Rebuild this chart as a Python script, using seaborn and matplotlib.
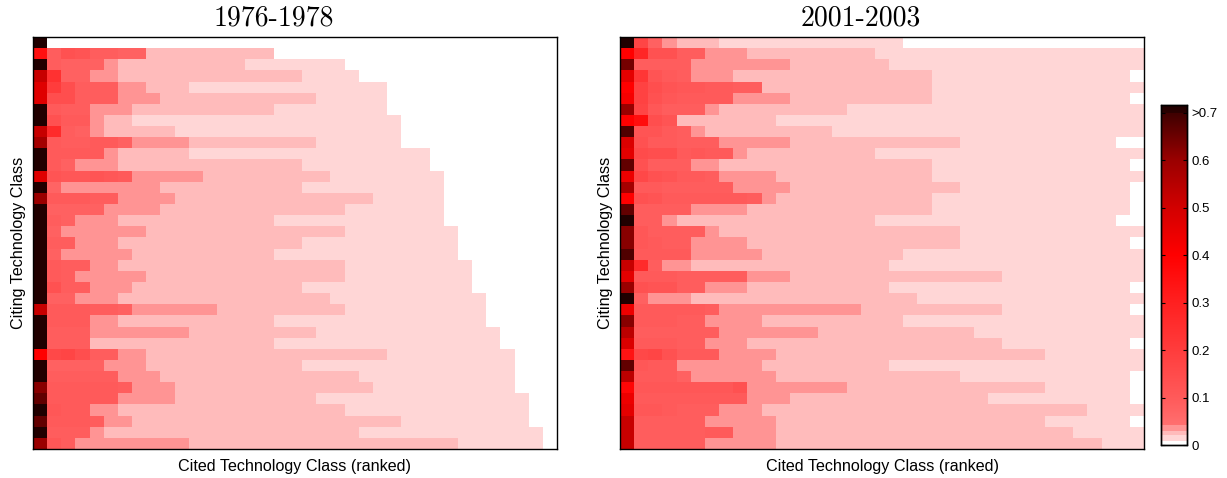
import numpy as np
import seaborn as sns
import matplotlib.pyplot as plt
from matplotlib.colors import LinearSegmentedColormap

VMAX = 0.7158
N_RANKS = 37
PALE, LIGHT, SOFT = 0.015, 0.025, 0.04

titles = ['1976-1978', '2001-2003']
cbar_ticks = [0, 0.1, 0.2, 0.3, 0.4, 0.5, 0.6, 0.7]
cbar_labels = ['0', '0.1', '0.2', '0.3', '0.4', '0.5', '0.6', '>0.7']

# 1976-1978: self citing share, red cells after it, and where each pale band ends
first_76 = [.72, .35, .72, .52, .47, .47, .72, .72, .52, .58, .72, .72, .47, .72, .6, .72, .72, .72, .72,
            .72, .72, .72, .72, .72, .52, .72, .72, .72, .4, .72, .72, .62, .66, .72, .66, .72, .6]
hot_76 = [
    [],
    [.09, .13, .12, .09, .09, .08, .08],
    [.09, .08, .08, .08],
    [.24, .08, .08],
    [.2, .14, .09, .09, .09],
    [.14, .14, .09, .09, .09],
    [.1, .09, .09],
    [.13, .1, .1],
    [.26, .09, .08],
    [.1, .09, .09, .1, .1, .08],
    [.1, .1, .1, .1],
    [.1, .08],
    [.12, .11, .11, .12, .11, .1],
    [.07],
    [.1, .1, .1, .09, .09],
    [.08, .08, .08, .08],
    [.09, .08],
    [.08],
    [.09, .09],
    [.08],
    [.1, .09, .09],
    [.1, .09],
    [.13, .09, .09],
    [.08, .08],
    [.1, .1, .1, .09, .09, .08],
    [.1, .1, .1],
    [.09, .09, .09],
    [.09, .09, .09],
    [.16, .17, .14, .09, .09],
    [.08, .08, .08, .08],
    [.09, .09, .09, .09, .09],
    [.1, .1, .1, .1, .1, .09],
    [.1, .1, .1, .1, .1],
    [.11, .1, .1],
    [.1, .1, .1, .09],
    [.09, .09, .09],
    [.11, .09],
]
soft_end_76 = [1, 8, 6, 6, 8, 9, 7, 5, 5, 11, 6, 6, 12, 9, 10, 9, 6, 8, 6,
               7, 6, 8, 7, 6, 13, 6, 11, 4, 8, 8, 9, 10, 10, 6, 7, 5, 11]
light_end_76 = [1, 17, 15, 19, 11, 20, 17, 7, 10, 20, 11, 19, 21, 19, 24, 22, 17, 22, 19,
                17, 22, 22, 19, 21, 22, 17, 20, 17, 25, 19, 23, 24, 20, 22, 26, 23, 30]
pale_end_76 = [1, 17, 22, 23, 25, 25, 25, 26, 26, 26, 28, 28, 29, 29, 29, 29, 29, 30, 30,
               30, 31, 31, 31, 32, 32, 32, 33, 33, 34, 34, 34, 34, 35, 35, 35, 36, 36]

# 2001-2003
first_01 = [.72, .4, .64, .46, .4, .42, .6, .4, .68, .48, .46, .66, .44, .58, .4, .66, .72, .62, .62,
            .68, .52, .46, .6, .72, .44, .62, .54, .48, .34, .66, .54, .38, .44, .46, .52, .52, .52]
hot_01 = [
    [.17, .08],
    [.28, .13, .13, .09, .09],
    [.09, .09, .09, .09],
    [.22, .12, .1, .09],
    [.18, .14, .12, .11, .11, .1, .1, .09, .09],
    [.18, .13, .11, .1, .1, .1, .1],
    [.17, .11, .09, .09, .09],
    [.36, .14, .12],
    [.12, .12, .1, .09],
    [.13, .1, .1, .09, .09, .09],
    [.15, .14, .14, .1, .11, .1, .1],
    [.13, .09, .09, .09],
    [.16, .13, .12, .1, .1, .09],
    [.1, .1, .09, .09, .09, .09, .09],
    [.13, .12, .1, .1, .1, .1, .1, .1, .09],
    [.09, .09, .09, .09],
    [.09, .09],
    [.11, .09, .09, .09, .09],
    [.11, .1, .09, .09],
    [.1, .1, .1, .1],
    [.26, .09],
    [.1, .1, .1, .09, .09, .09, .09, .09],
    [.13, .12, .12, .09, .09],
    [.08],
    [.1, .1, .1, .1, .1, .09],
    [.1, .1, .1, .09, .09],
    [.09, .09, .09, .09, .09, .09],
    [.1, .1, .1, .09, .09],
    [.16, .17, .13, .1, .1, .1],
    [.11, .1, .1],
    [.1, .1, .1, .08],
    [.11, .11, .11, .11, .11, .11, .11, .13],
    [.1, .1, .1, .1, .1, .1, .1, .1],
    [.11, .11, .1, .09, .09, .09],
    [.09, .09, .09, .09, .09],
    [.09, .09, .09, .09, .09, .1, .1],
    [.09, .09, .09, .09, .09],
]
soft_end_01 = [4, 9, 12, 8, 10, 12, 7, 4, 6, 12, 9, 7, 11, 12, 11, 9, 4, 7, 9,
               10, 5, 12, 9, 5, 17, 10, 14, 9, 11, 10, 11, 16, 12, 10, 11, 11, 11]
light_end_01 = [7, 18, 19, 22, 22, 22, 16, 11, 15, 24, 18, 22, 22, 24, 22, 22, 18, 24, 24,
                20, 19, 27, 19, 21, 27, 20, 25, 27, 30, 19, 24, 30, 26, 33, 30, 32, 34]
pale_end_01 = [20, 37, 37, 36, 37, 36, 37, 37, 37, 35, 37, 36, 37, 36, 36, 36, 35, 37, 36,
               37, 37, 37, 36, 37, 36, 37, 37, 36, 37, 37, 36, 36, 36, 37, 36, 37, 37]


def build_matrix(first, hot, soft_end, light_end, pale_end):
    mat = np.zeros((len(first), N_RANKS))
    for i in range(len(first)):
        mat[i, :pale_end[i]] = PALE
        mat[i, :light_end[i]] = LIGHT
        mat[i, :soft_end[i]] = SOFT
        mat[i, 0] = first[i]
        mat[i, 1:1 + len(hot[i])] = hot[i]
    return mat


# stepped at the bottom, then a smooth white-red-black ramp
stops = [(0, '#ffffff'), (.0076, '#ffffff'), (.0076, '#ffd6d6'), (.0196, '#ffd6d6'),
         (.0196, '#ffbbbb'), (.03, '#ffbbbb'), (.03, '#ff9494'), (.0406, '#ff9494'),
         (.0406, '#ff7070'), (.07, '#ff6464'), (.1, '#ff5a5a'), (.2, '#ff3c3c'),
         (.3, '#ff2020'), (.4, '#ff0000'), (.5, '#d20000'), (.6, '#9a0000'),
         (.7, '#3e0000'), (.7, '#2a0000'), (VMAX, '#200000')]
cmap = LinearSegmentedColormap.from_list('citing', [(v / VMAX, c) for v, c in stops], N=1024)

W, H = 1227, 478
fig = plt.figure(figsize=(W / 100, H / 100), dpi=100)
ax1 = fig.add_axes([33 / W, 1 - 449 / H, 524 / W, 412 / H])
ax2 = fig.add_axes([620 / W, 1 - 449 / H, 524 / W, 412 / H])
cax = fig.add_axes([1161 / W, 1 - 445 / H, 26 / W, 340 / H])

matrices = [build_matrix(first_76, hot_76, soft_end_76, light_end_76, pale_end_76),
            build_matrix(first_01, hot_01, soft_end_01, light_end_01, pale_end_01)]

for ax, mat, title in zip([ax1, ax2], matrices, titles):
    sns.heatmap(mat, ax=ax, cmap=cmap, vmin=0, vmax=VMAX, xticklabels=False, yticklabels=False,
                cbar=ax is ax2, cbar_ax=cax if ax is ax2 else None,
                cbar_kws={'ticks': cbar_ticks}, rasterized=True)
    for side in ax.spines.values():
        side.set_visible(True)
        side.set_color('black')
        side.set_linewidth(1.0)
    # the titles sit left of the axes centre in the original
    ax.set_title(title, family='cmr10', fontsize=20, x=0.46, pad=8.5)
    ax.set_xlabel('Cited Technology Class (ranked)', family='Liberation Sans', fontsize=11.6, labelpad=7)
    ax.set_ylabel('Citing Technology Class', family='Liberation Sans', fontsize=11.6, labelpad=5)

cax.set_yticks(cbar_ticks)
cax.set_yticklabels(cbar_labels, family='Liberation Sans', fontsize=9.5)
cax.tick_params(axis='y', direction='in', length=3, width=0.8, pad=3, left=True, right=True)
for side in cax.spines.values():
    side.set_visible(True)
    side.set_color('black')
    side.set_linewidth(1.0)

plt.savefig('out.png', dpi=100)
plt.close()
